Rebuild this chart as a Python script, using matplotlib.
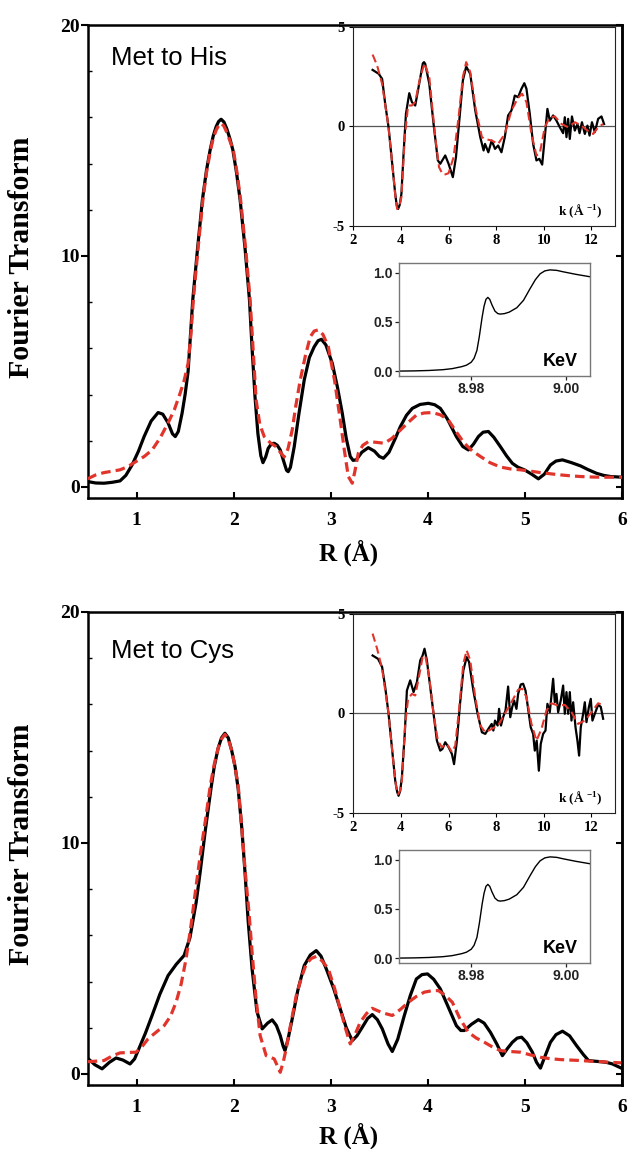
import matplotlib
matplotlib.use("Agg")
import matplotlib.pyplot as plt

W, H = 630, 1149
RED = "#e1352b"
SERIF = "Liberation Serif"
SANS = "Liberation Sans"

# ---- Met to His -------------------------------------------------------
R_HIS_EXP = [0.50, 0.58, 0.665, 0.75, 0.83, 0.89, 0.954, 1.02, 1.078, 1.15,
             1.222, 1.27, 1.325, 1.37, 1.399, 1.43, 1.469, 1.50, 1.531, 1.579,
             1.627, 1.678, 1.72, 1.758, 1.79, 1.82, 1.845, 1.871, 1.90, 1.93,
             1.96, 1.992, 2.03, 2.067, 2.119, 2.163, 2.19, 2.22, 2.25, 2.28,
             2.302, 2.33, 2.356, 2.39, 2.418, 2.45, 2.48, 2.52, 2.545, 2.562,
             2.585, 2.624, 2.67, 2.727, 2.78, 2.83, 2.87, 2.904, 2.95, 3.016,
             3.07, 3.119, 3.16, 3.201, 3.23, 3.263, 3.32, 3.387, 3.45, 3.50,
             3.543, 3.60, 3.66, 3.717, 3.78, 3.84, 3.92, 4.005, 4.07, 4.129,
             4.20, 4.294, 4.36, 4.418, 4.47, 4.521, 4.57, 4.624, 4.68, 4.748,
             4.81, 4.871, 4.93, 4.995, 5.07, 5.139, 5.20, 5.263, 5.32, 5.387,
             5.48, 5.573, 5.65, 5.737, 5.81, 5.882, 6.0]
FT_HIS_EXP = [0.23, 0.17, 0.16, 0.20, 0.26, 0.50, 0.95, 1.55, 2.18, 2.85,
              3.22, 3.15, 2.77, 2.30, 2.18, 2.40, 3.19, 4.00, 5.00, 8.10,
              10.26, 12.42, 13.70, 14.59, 15.20, 15.60, 15.82, 15.92, 15.80, 15.50,
              15.10, 14.59, 13.60, 12.42, 10.26, 8.10, 6.00, 3.91, 2.30, 1.35,
              1.05, 1.30, 1.67, 1.87, 1.89, 1.80, 1.60, 1.05, 0.72, 0.66,
              0.85, 1.74, 3.10, 4.63, 5.60, 6.07, 6.33, 6.39, 6.15, 5.35,
              4.30, 3.19, 2.10, 1.32, 1.15, 1.17, 1.50, 1.70, 1.55, 1.32,
              1.24, 1.50, 2.05, 2.61, 3.10, 3.40, 3.57, 3.62, 3.56, 3.40,
              2.95, 2.18, 1.75, 1.60, 1.85, 2.18, 2.37, 2.40, 2.15, 1.74,
              1.35, 1.02, 0.85, 0.74, 0.55, 0.35, 0.55, 0.95, 1.12, 1.17,
              1.05, 0.91, 0.75, 0.59, 0.50, 0.45, 0.42]
R_HIS_FIT = [0.496, 0.58, 0.665, 0.75, 0.83, 0.91, 0.995, 1.08, 1.16, 1.24,
             1.325, 1.39, 1.449, 1.49, 1.531, 1.56, 1.585, 1.632, 1.683, 1.72,
             1.762, 1.79, 1.82, 1.85, 1.875, 1.90, 1.93, 1.96, 1.997, 2.035,
             2.072, 2.125, 2.17, 2.20, 2.232, 2.27, 2.315, 2.38, 2.438, 2.48,
             2.521, 2.56, 2.603, 2.64, 2.686, 2.74, 2.789, 2.83, 2.871, 2.92,
             2.975, 3.04, 3.098, 3.14, 3.181, 3.222, 3.25, 3.284, 3.33, 3.387,
             3.47, 3.552, 3.63, 3.717, 3.80, 3.882, 3.96, 4.047, 4.13, 4.211,
             4.29, 4.376, 4.46, 4.541, 4.64, 4.748, 4.85, 4.954, 5.06, 5.16,
             5.26, 5.366, 5.47, 5.573, 5.68, 5.779, 6.0]
FT_HIS_FIT = [0.35, 0.52, 0.62, 0.68, 0.74, 0.88, 1.10, 1.32, 1.60, 2.10,
              2.77, 3.35, 4.06, 4.60, 5.35, 6.60, 8.10, 10.26, 12.42, 13.60,
              14.59, 15.10, 15.45, 15.68, 15.74, 15.62, 15.35, 15.00, 14.59, 13.60,
              12.42, 10.26, 8.10, 6.00, 3.75, 2.70, 2.18, 1.90, 1.74, 1.50,
              1.30, 1.65, 2.46, 3.50, 4.63, 5.70, 6.50, 6.75, 6.80, 6.60,
              6.07, 4.60, 2.90, 1.60, 0.45, 0.16, 0.70, 1.46, 1.80, 1.96,
              1.93, 1.89, 2.10, 2.46, 2.80, 3.11, 3.20, 3.22, 3.12, 2.90,
              2.40, 1.89, 1.55, 1.32, 1.05, 0.86, 0.78, 0.74, 0.68, 0.62,
              0.57, 0.52, 0.48, 0.45, 0.43, 0.42, 0.42]

K_HIS_EXP = [2.81, 3.07, 3.21, 3.34, 3.48, 3.62, 3.76, 3.82, 3.88, 3.95,
             4.02, 4.11, 4.21, 4.35, 4.46, 4.60, 4.74, 4.92, 4.97, 5.02,
             5.19, 5.37, 5.55, 5.65, 5.86, 6.00, 6.18, 6.31, 6.45, 6.60,
             6.74, 6.91, 7.12, 7.33, 7.47, 7.53, 7.67, 7.81, 7.95, 8.08,
             8.22, 8.36, 8.50, 8.64, 8.78, 8.92, 9.06, 9.18, 9.27, 9.41,
             9.55, 9.69, 9.81, 9.93, 10.04, 10.15, 10.25, 10.39, 10.53, 10.67,
             10.81, 10.88, 10.95, 11.02, 11.09, 11.18, 11.30, 11.41, 11.50, 11.60,
             11.72, 11.83, 11.92, 12.02, 12.14, 12.28, 12.42, 12.53]
CHI_HIS_EXP = [2.83, 2.63, 2.38, 1.12, -0.05, -1.72, -3.40, -3.95, -4.16, -3.95,
               -3.40, -1.39, 0.62, 1.66, 1.21, 1.04, 1.96, 3.16, 3.22, 3.13,
               2.13, 0.11, -1.72, -1.89, -1.47, -1.89, -2.56, -1.56, 0.28, 2.30,
               3.00, 2.63, 0.79, -0.55, -1.22, -0.89, -1.31, -0.72, -1.14, -0.97,
               -1.31, -0.55, 0.54, 0.79, 1.54, 1.46, 1.88, 2.16, 1.88, 0.62,
               -0.89, -1.72, -1.64, -1.93, -0.55, 0.87, 0.28, 0.54, 0.28, -0.05,
               -0.35, 0.45, -0.55, 0.37, -0.64, 0.49, -0.22, 0.11, -0.35, 0.20,
               -0.39, 0.03, -0.47, 0.20, -0.30, 0.37, 0.49, 0.11]
K_HIS_FIT = [2.81, 3.0, 3.21, 3.48, 3.69, 3.78, 3.84, 3.92, 4.02, 4.16,
             4.30, 4.46, 4.60, 4.81, 4.99, 5.19, 5.44, 5.60, 5.74, 5.87,
             6.00, 6.21, 6.42, 6.60, 6.74, 6.91, 7.15, 7.40, 7.53, 7.81,
             8.08, 8.36, 8.64, 8.92, 9.09, 9.27, 9.48, 9.69, 9.83, 10.04,
             10.25, 10.46, 10.74, 11.02, 11.30, 11.58, 11.86, 12.07, 12.28, 12.49]
CHI_HIS_FIT = [3.60, 3.05, 2.13, -0.05, -2.56, -3.70, -4.16, -4.05, -3.57, -0.55,
               1.04, 1.04, 1.21, 2.47, 3.16, 2.47, -0.55, -2.06, -2.39, -2.42,
               -2.36, -1.56, 0.45, 2.47, 3.22, 2.72, 0.79, -0.55, -0.64, -0.72,
               -0.89, -0.39, 0.79, 1.43, 1.63, 1.21, -0.39, -1.47, -1.36, -0.05,
               0.45, 0.49, 0.11, -0.05, 0.20, 0.03, -0.25, -0.39, -0.05, 0.11]

# ---- Met to Cys -------------------------------------------------------
R_CYS_EXP = [0.496, 0.57, 0.645, 0.72, 0.789, 0.86, 0.933, 0.98, 1.016, 1.09,
             1.16, 1.24, 1.325, 1.41, 1.49, 1.55, 1.614, 1.655, 1.71, 1.766,
             1.80, 1.84, 1.875, 1.91, 1.945, 1.98, 2.015, 2.047, 2.085, 2.117,
             2.15, 2.19, 2.24, 2.294, 2.35, 2.397, 2.44, 2.48, 2.51, 2.529,
             2.56, 2.603, 2.66, 2.727, 2.79, 2.851, 2.90, 2.954, 3.03, 3.098,
             3.16, 3.222, 3.27, 3.325, 3.38, 3.428, 3.48, 3.531, 3.59, 3.634,
             3.69, 3.758, 3.82, 3.882, 3.94, 3.997, 4.06, 4.129, 4.21, 4.294,
             4.34, 4.376, 4.45, 4.521, 4.58, 4.645, 4.71, 4.768, 4.82, 4.871,
             4.92, 4.966, 5.02, 5.077, 5.12, 5.16, 5.21, 5.263, 5.32, 5.387,
             5.46, 5.531, 5.60, 5.655, 5.72, 5.779, 5.84, 5.902, 5.993]
FT_CYS_EXP = [0.68, 0.40, 0.22, 0.50, 0.69, 0.60, 0.43, 0.65, 1.01, 1.75,
              2.53, 3.45, 4.26, 4.75, 5.13, 5.90, 7.43, 8.73, 10.60, 12.34,
              13.30, 14.10, 14.55, 14.75, 14.55, 14.00, 13.30, 12.34, 10.60, 8.73,
              6.60, 4.55, 2.70, 1.95, 2.20, 2.34, 2.10, 1.66, 1.20, 1.01,
              1.50, 2.38, 3.60, 4.69, 5.15, 5.34, 5.10, 4.55, 3.70, 2.81,
              2.00, 1.44, 1.65, 2.02, 2.40, 2.57, 2.35, 1.95, 1.30, 0.97,
              1.50, 2.53, 3.40, 4.11, 4.30, 4.33, 4.10, 3.68, 2.90, 2.09,
              1.88, 1.88, 2.15, 2.35, 2.20, 1.80, 1.30, 0.79, 1.10, 1.37,
              1.55, 1.59, 1.35, 0.94, 0.50, 0.25, 0.80, 1.37, 1.70, 1.85,
              1.65, 1.23, 0.85, 0.58, 0.55, 0.53, 0.50, 0.43, 0.25]
R_CYS_FIT = [0.496, 0.58, 0.665, 0.75, 0.83, 0.91, 0.995, 1.06, 1.119, 1.20,
             1.284, 1.35, 1.407, 1.46, 1.51, 1.56, 1.614, 1.66, 1.71, 1.76,
             1.80, 1.84, 1.875, 1.91, 1.945, 1.98, 2.015, 2.05, 2.085, 2.12,
             2.16, 2.19, 2.23, 2.273, 2.335, 2.38, 2.418, 2.45, 2.48, 2.51,
             2.541, 2.59, 2.645, 2.70, 2.748, 2.80, 2.851, 2.91, 2.975, 3.04,
             3.098, 3.15, 3.201, 3.25, 3.304, 3.37, 3.428, 3.53, 3.634, 3.72,
             3.799, 3.88, 3.964, 4.04, 4.108, 4.18, 4.253, 4.33, 4.418, 4.50,
             4.583, 4.66, 4.748, 4.85, 4.954, 5.06, 5.16, 5.26, 5.366, 5.47,
             5.573, 5.68, 5.779, 5.89, 5.993]
FT_CYS_FIT = [0.53, 0.55, 0.58, 0.78, 0.91, 0.93, 0.94, 1.20, 1.52, 1.80,
              2.09, 2.50, 3.10, 3.90, 4.98, 6.40, 8.15, 9.60, 11.00, 12.50,
              13.40, 14.10, 14.50, 14.70, 14.50, 14.00, 13.30, 12.34, 10.60, 8.73,
              6.90, 5.27, 3.30, 1.66, 0.79, 0.72, 0.65, 0.35, 0.07, 0.50,
              1.08, 2.20, 3.39, 4.20, 4.76, 5.00, 5.09, 4.90, 4.55, 3.70,
              2.81, 2.00, 1.30, 1.70, 2.24, 2.62, 2.84, 2.65, 2.53, 2.80,
              3.10, 3.35, 3.54, 3.60, 3.61, 3.40, 3.10, 2.40, 1.80, 1.55,
              1.37, 1.18, 1.01, 0.97, 0.94, 0.82, 0.72, 0.66, 0.62, 0.60,
              0.58, 0.55, 0.53, 0.50, 0.48]

K_CYS_EXP = [2.81, 3.04, 3.21, 3.34, 3.48, 3.62, 3.76, 3.84, 3.90, 3.97,
             4.04, 4.16, 4.25, 4.39, 4.53, 4.67, 4.81, 4.91, 4.99, 5.09,
             5.23, 5.37, 5.51, 5.65, 5.74, 5.86, 6.00, 6.14, 6.23, 6.35,
             6.48, 6.62, 6.76, 6.86, 7.04, 7.22, 7.40, 7.54, 7.67, 7.81,
             7.88, 7.95, 8.06, 8.12, 8.20, 8.29, 8.39, 8.50, 8.59, 8.67,
             8.75, 8.85, 8.92, 9.03, 9.13, 9.23, 9.34, 9.45, 9.55, 9.62,
             9.70, 9.79, 9.87, 9.97, 10.07, 10.15, 10.25, 10.32, 10.39, 10.46,
             10.53, 10.60, 10.71, 10.81, 10.88, 10.95, 11.02, 11.09, 11.16, 11.23,
             11.33, 11.41, 11.48, 11.55, 11.65, 11.72, 11.79, 11.89, 11.97, 12.04,
             12.14, 12.28, 12.39, 12.49]
CHI_CYS_EXP = [2.90, 2.73, 2.32, 1.31, -0.03, -1.71, -3.39, -3.95, -4.15, -3.90,
               -3.22, -1.04, 1.14, 1.65, 1.06, 1.56, 2.65, 2.90, 3.24, 2.65,
               1.31, -0.03, -1.38, -1.88, -1.80, -1.46, -1.71, -2.05, -2.56, -1.38,
               0.47, 2.15, 2.82, 2.57, 1.14, -0.03, -0.96, -1.04, -0.79, -0.54,
               -0.87, -0.37, -0.62, 0.22, -0.62, -0.20, 0.13, 1.34, -0.20, 0.30,
               0.64, 0.22, 0.97, 1.44, 1.48, 1.14, 0.22, -0.71, -1.04, -1.88,
               -1.38, -2.89, -1.54, -1.04, -0.87, 0.47, 0.05, 0.89, 1.73, 0.55,
               0.97, 0.05, 0.64, 1.39, -0.03, 1.06, -0.03, 1.06, -0.37, 0.55,
               -0.71, -1.38, -2.13, -0.71, -0.03, 0.55, -0.45, 0.30, 0.72, -0.37,
               -0.03, 0.42, 0.32, -0.28]
K_CYS_FIT = [2.81, 3.0, 3.21, 3.48, 3.69, 3.80, 3.88, 3.96, 4.04, 4.18,
             4.30, 4.46, 4.60, 4.74, 4.91, 5.02, 5.19, 5.37, 5.55, 5.72,
             5.93, 6.14, 6.28, 6.45, 6.62, 6.76, 6.91, 7.12, 7.33, 7.54,
             7.81, 8.08, 8.36, 8.64, 8.92, 9.09, 9.27, 9.48, 9.69, 9.90,
             10.11, 10.32, 10.60, 10.88, 11.16, 11.44, 11.72, 12.00, 12.28, 12.53]
CHI_CYS_FIT = [4.00, 3.24, 2.23, -0.03, -2.56, -3.70, -4.07, -3.90, -3.39, -0.54,
               0.72, 0.97, 0.89, 1.73, 2.82, 2.90, 1.81, -0.03, -1.38, -1.71,
               -1.54, -1.96, -1.63, 0.30, 2.49, 3.16, 2.65, 0.81, -0.62, -0.96,
               -0.79, -0.62, -0.03, 0.55, 1.18, 1.23, 0.81, -0.54, -1.38, -0.79,
               0.13, 0.50, 0.38, 0.42, 0.05, -0.54, -0.37, 0.05, 0.50, 0.38]

# Cu K-edge XANES (normalised), keV
E_XANES = [8.9648, 8.968, 8.971, 8.974, 8.976, 8.978, 8.979, 8.980, 8.9806, 8.9812,
           8.9817, 8.9823, 8.9827, 8.9831, 8.9835, 8.9839, 8.9844, 8.9850, 8.9856, 8.9861,
           8.987, 8.988, 8.9896, 8.991, 8.9924, 8.9935, 8.9945, 8.9955, 8.9966, 8.998,
           8.9994, 9.002, 9.005]
MU_XANES = [0.0, 0.002, 0.006, 0.014, 0.025, 0.045, 0.06, 0.09, 0.13, 0.21,
            0.35, 0.55, 0.66, 0.73, 0.75, 0.73, 0.67, 0.61, 0.585, 0.58,
            0.585, 0.60, 0.645, 0.72, 0.84, 0.93, 0.99, 1.02, 1.03, 1.025,
            1.01, 0.985, 0.96]

plt.rcParams["font.family"] = SERIF
plt.rcParams["font.weight"] = "bold"
plt.rcParams["mathtext.fontset"] = "custom"
plt.rcParams["mathtext.rm"] = SERIF
plt.rcParams["mathtext.bf"] = SERIF + ":bold"


def px_axes(fig, left, top, right, bottom):
    return fig.add_axes([left / W, 1 - bottom / H, (right - left) / W, (bottom - top) / H])


def draw_panel(fig, dy, title, title_y, xlabel_y, r_exp, ft_exp, r_fit, ft_fit,
               k_exp, chi_exp, k_fit, chi_fit):
    # main Fourier transform
    ax = px_axes(fig, 88, 25 + dy, 622, 498 + dy)
    ax.plot(r_exp, ft_exp, color="black", lw=2.3, zorder=2)
    ax.plot(r_fit, ft_fit, color=RED, lw=2.3, dashes=(3.0, 1.6), zorder=3)
    ax.set_xlim(0.5, 6)
    ax.set_ylim(-0.48, 20)
    for s in ax.spines.values():
        s.set_linewidth(1.8)
    ax.set_xticks([1, 2, 3, 4, 5, 6], ["1", "2", "3", "4", "5", "6"],
                  fontsize=14, fontweight="bold", family=SERIF)
    ax.set_yticks([0, 10, 20], ["0", "10", "20"],
                  fontsize=14, fontweight="bold", family=SERIF)
    ax.set_yticks(range(2, 20, 2), minor=True)
    ax.tick_params(axis="x", direction="in", length=4, width=1.5, pad=10)
    ax.tick_params(axis="y", which="major", direction="out", length=5, width=1.5, pad=1)
    ax.tick_params(axis="y", which="minor", direction="in", length=3, width=1)
    sec = ax.secondary_yaxis("right")
    sec.set_yticks([0, 10, 20], ["", "", ""])
    sec.tick_params(direction="in", length=4, width=1.5)
    sec.spines["right"].set_linewidth(1.8)

    fig.text(111 / W, 1 - title_y / H, title, family=SANS, fontweight="normal",
             fontsize=18.5, ha="left", va="baseline")
    fig.text(349 / W, 1 - xlabel_y / H, "R (Å)", fontsize=18, ha="center", va="center")
    fig.text(22 / W, 1 - (257 + dy) / H, "Fourier Transform", fontsize=21.5,
             rotation=90, ha="center", va="center")

    # k-space inset
    ak = px_axes(fig, 353.3, 26.7 + dy, 615.3, 225.7 + dy)
    ak.axhline(0, color="#555555", lw=0.9, zorder=1)
    ak.plot(k_exp, chi_exp, color="black", lw=1.6, zorder=2)
    ak.plot(k_fit, chi_fit, color=RED, lw=1.5, dashes=(4.0, 2.0), zorder=3)
    ak.set_xlim(2, 13)
    ak.set_ylim(-5, 5)
    ak.set_xticks([2, 4, 6, 8, 10, 12], ["2", "4", "6", "8", "10", "12"],
                  fontsize=10.5, fontweight="bold", family=SERIF)
    ak.set_yticks([-5, 0, 5], ["-5", "0", "5"], fontsize=10.5, fontweight="bold", family=SERIF)
    ak.tick_params(direction="out", length=3, width=0.8, pad=3)
    for s in ak.spines.values():
        s.set_linewidth(0.8)
        s.set_color("#222222")
    ak.text(0.865, 0.074, "k (Å $^{\\mathbf{-1}}$)", transform=ak.transAxes,
            fontsize=9.5, ha="center", va="center")

    # XANES inset
    ax_e = px_axes(fig, 399, 263 + dy, 590, 376 + dy)
    ax_e.plot(E_XANES, MU_XANES, color="black", lw=1.0)
    ax_e.set_xlim(8.9648, 9.005)
    ax_e.set_ylim(-0.05, 1.10)
    ax_e.set_xticks([8.98, 9.00], ["8.98", "9.00"], fontsize=10, fontweight="bold", family=SANS)
    ax_e.set_yticks([0.0, 0.5, 1.0], ["0.0", "0.5", "1.0"], fontsize=10,
                    fontweight="bold", family=SANS)
    ax_e.tick_params(direction="out", length=3, width=0.9, pad=1.5, colors="#222222")
    for s in ax_e.spines.values():
        s.set_linewidth(1.0)
        s.set_color("#777777")
    ax_e.text(0.843, 0.127, "KeV", transform=ax_e.transAxes, family=SANS,
              fontsize=13, fontweight="bold", ha="center", va="center")


fig = plt.figure(figsize=(W / 100, H / 100), dpi=100)
draw_panel(fig, 0, "Met to His", 65, 553, R_HIS_EXP, FT_HIS_EXP, R_HIS_FIT, FT_HIS_FIT,
           K_HIS_EXP, CHI_HIS_EXP, K_HIS_FIT, CHI_HIS_FIT)
draw_panel(fig, 587, "Met to Cys", 658, 1136, R_CYS_EXP, FT_CYS_EXP, R_CYS_FIT, FT_CYS_FIT,
           K_CYS_EXP, CHI_CYS_EXP, K_CYS_FIT, CHI_CYS_FIT)
fig.savefig("out.png", dpi=100)
